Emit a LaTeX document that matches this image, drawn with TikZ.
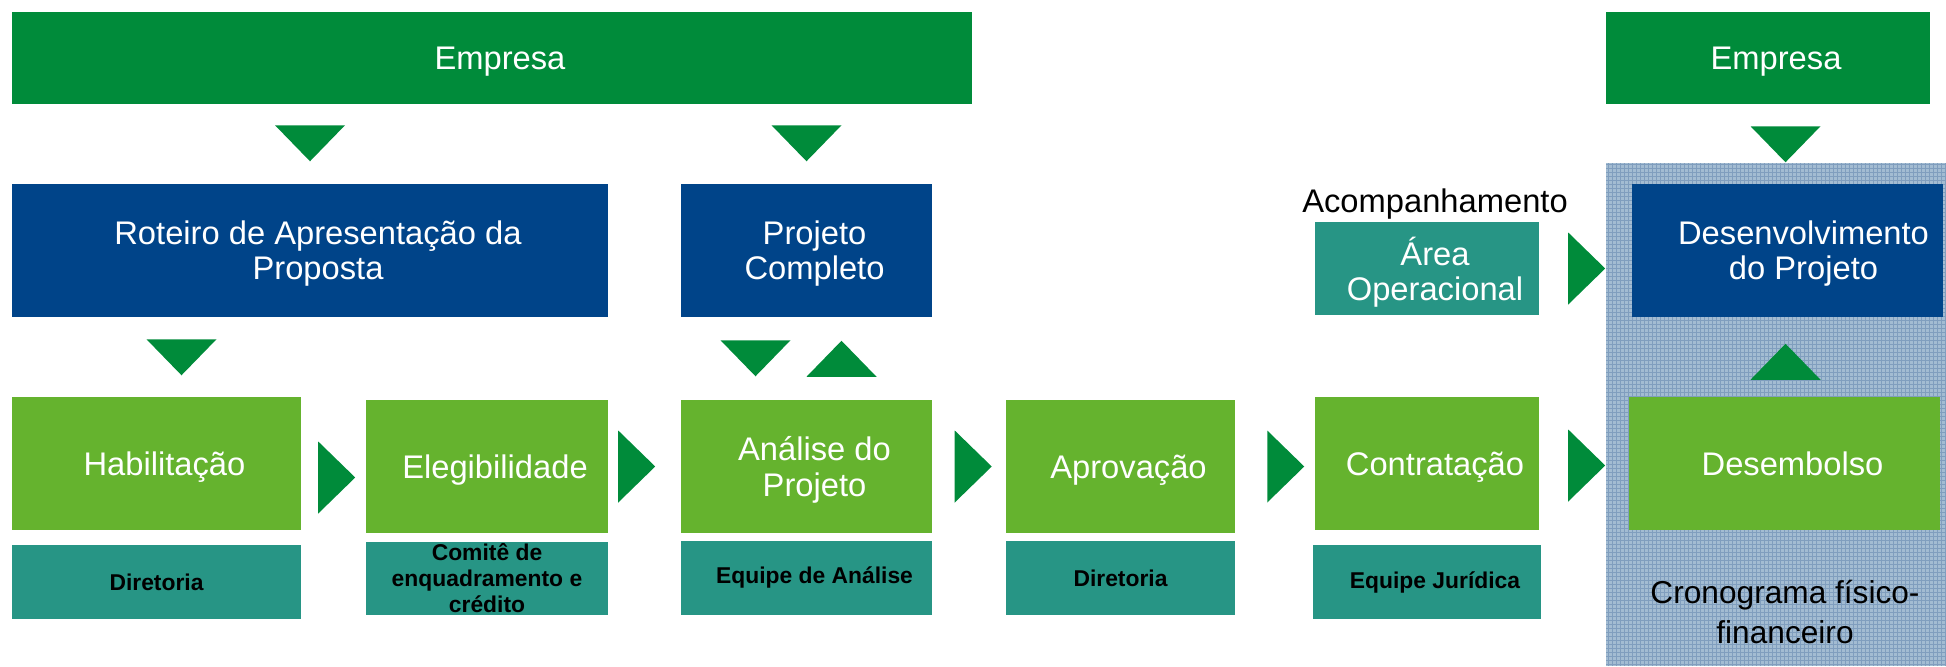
\documentclass[tikz,border=0pt]{standalone}
\usepackage{fontspec}
\setmainfont{Liberation Sans}
\usetikzlibrary{positioning,calc}
\definecolor{empgreen}{RGB}{0,139,58}
\definecolor{projblue}{RGB}{0,68,137}
\definecolor{stagegreen}{RGB}{101,179,46}
\definecolor{teamteal}{RGB}{39,149,133}
\definecolor{panelblue}{RGB}{163,188,210}
\definecolor{panelline}{RGB}{128,158,190}
\newcommand{\lpad}{\hspace*{0.16cm}}

\begin{document}
\begin{tikzpicture}[x=0.01cm, y=-0.01cm]
\tikzstyle{box}=[rectangle, inner sep=0pt, text=white, align=center, text depth=0pt, font=\fontsize{9.3}{10}\selectfont, minimum height=1.33cm]
\tikzstyle{empresa}=[box, fill=empgreen, minimum height=0.92cm]
\tikzstyle{proj}=[box, fill=projblue]
\tikzstyle{stage}=[box, fill=stagegreen]
\tikzstyle{team}=[rectangle, inner sep=0pt, fill=teamteal, align=center, minimum height=0.73cm, font=\fontsize{6.5}{7.4}\selectfont\bfseries]
\tikzstyle{tri}=[fill=empgreen]
\useasboundingbox (0,0) rectangle (1946,666);
\fill[panelblue] (1606,163) rectangle (1946,666);
\draw[panelline, line width=0.15pt, step=0.04cm] (1606,666) grid (1946,163);
  \node[empresa, minimum width=9.60cm] (emp1) at (492,58) {\lpad Empresa};
  \node[empresa, minimum width=3.24cm] (emp2) at (1768,58) {\lpad Empresa};
  \node[proj, minimum width=5.96cm] (rot) at (310,250.5) {\lpad Roteiro de Apresentação da\\\lpad Proposta};
  \node[proj, minimum width=2.51cm] (pc) at (806.5,250.5) {\lpad Projeto\\\lpad Completo};
  \node[proj, minimum width=3.11cm] (dev) at (1787.5,250.5) {\lpad\lpad Desenvolvimento\\\lpad\lpad do Projeto};
  \node[box, fill=teamteal, minimum width=2.24cm, minimum height=0.93cm] (op) at (1427,268.5) {\lpad Área\\\lpad Operacional};
  \node[inner sep=0pt, font=\fontsize{9.3}{10}\selectfont] (acomp) [above=0.01cm of op, xshift=0.08cm] {Acompanhamento};
  \node[stage, minimum width=2.89cm] (hab) at (156.5,463.5) {\lpad Habilitação};
  \node[stage, minimum width=2.42cm] (ele) at (487,466.5) {\lpad Elegibilidade};
  \node[stage, minimum width=2.51cm] (ana) at (806.5,466.5) {\lpad Análise do\\\lpad Projeto};
  \node[stage, minimum width=2.28cm] (apr) at (1120.5,466.5) {\lpad Aprovação};
  \node[stage, minimum width=2.24cm] (con) at (1427,463.5) {\lpad Contratação};
  \node[stage, minimum width=3.11cm] (des) at (1784.5,463.5) {\lpad Desembolso};
  \node[team, minimum width=2.89cm] (t1) [below=0.14cm of hab] {Diretoria};
  \node[team, minimum width=2.42cm, minimum height=0.72cm] (t2) [below=0.08cm of ele] {Comitê de\\enquadramento e\\crédito};
  \node[team, minimum width=2.51cm] (t3) [below=0.07cm of ana] {\lpad Equipe de Análise};
  \node[team, minimum width=2.28cm] (t4) [below=0.07cm of apr] {Diretoria};
  \node[team, minimum width=2.27cm] (t5) [below=0.14cm of con] {\lpad Equipe Jurídica};
  \node[inner sep=0pt, align=center, font=\fontsize{9}{11.6}\selectfont] (crono) at (1785,612) {Cronograma físico-\\financeiro};
\foreach \n/\dx/\dy in {rot/0/-40, pc/0/-40, dev/-2/-39, hab/25/-39, ana/-51/-41}
  \fill[tri, shift={($(\n.north)+(\dx,\dy)$)}] (-35,-18) -- (35,-18) -- (0,18) -- cycle;
\foreach \n/\dx/\dy in {pc/35/41, dev/-2/44}
  \fill[tri, shift={($(\n.south)+(\dx,\dy)$)}] (-35,18) -- (35,18) -- (0,-18) -- cycle;
\foreach \n/\dx/\dy in {ele/-29/11, ana/-44/0, apr/-33/0, con/-29/3, des/-42/2, dev/-45/18}
  \fill[tri, shift={($(\n.west)+(\dx,\dy)$)}] (-18,-36) -- (19,0) -- (-18,36) -- cycle;
\end{tikzpicture}
\end{document}
